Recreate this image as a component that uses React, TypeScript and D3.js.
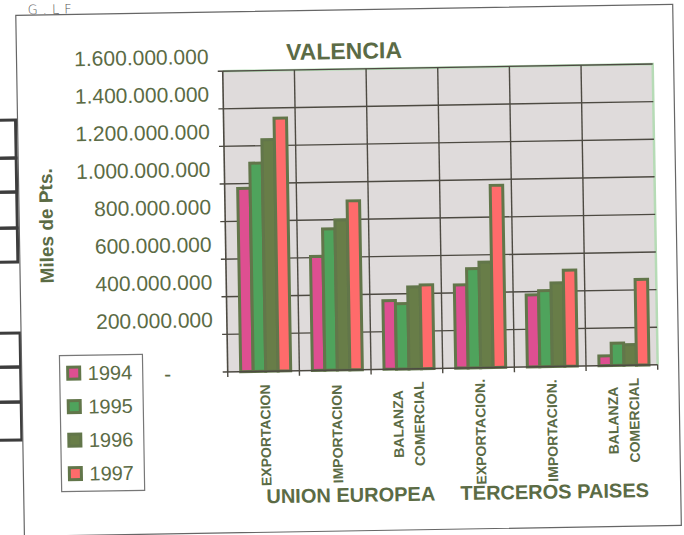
import * as d3 from 'd3';
import * as React from 'react';

// chart values (Miles de Pts.)
const categoryLines: string[][] = [
    ['EXPORTACION'],
    ['IMPORTACION'],
    ['BALANZA', 'COMERCIAL'],
    ['EXPORTACION.'],
    ['IMPORTACION.'],
    ['BALANZA', 'COMERCIAL'],
];
const groupLabels = ['UNION EUROPEA', 'TERCEROS PAISES'];
const years = ['1994', '1995', '1996', '1997'];
const values1994 = [975000000, 606000000, 365000000, 442000000, 383000000, 52000000];
const values1995 = [1108000000, 752000000, 348000000, 528000000, 404000000, 119000000];
const values1996 = [1232000000, 798000000, 436000000, 561000000, 445000000, 110000000];
const values1997 = [1345000000, 899000000, 445000000, 969000000, 511000000, 456000000];
const yTicks = [0, 200000000, 400000000, 600000000, 800000000, 1000000000, 1200000000, 1400000000, 1600000000];

const series = [values1994, values1995, values1996, values1997];
const colors = ['#de4f91', '#4fa35c', '#687d48', '#ff6b6b'];
const outline = '#62764a';
const textColor = '#5b6b45';
const gridColor = '#4d4a42';

const W = 684;
const H = 535;
const plot = { left: 226, right: 656, top: 69.2, bottom: 370 };

const esFormat = d3.formatLocale({ decimal: ',', thousands: '.', grouping: [3], currency: ['', ''] }).format(',d');

export default function App() {
    const x0 = d3.scaleBand<number>()
        .domain(d3.range(categoryLines.length))
        .range([plot.left, plot.right]);
    const x1 = d3.scaleBand<string>()
        .domain(years)
        .range([13, 63]);
    const y = d3.scaleLinear()
        .domain([0, 1600000000])
        .range([plot.bottom, plot.top]);

    const font = 'Liberation Sans, Arial, sans-serif';
    const bw = x0.bandwidth();

    return (
        <svg width={W} height={H} style={{ position: 'absolute', left: 0, top: 0, display: 'block', background: '#fff' }}>
            <g transform="rotate(-0.95 342 267)">
                {/* boxes of the page behind */}
                {[114.6, 152.6, 186.6, 222.6].map((b, i, arr) => (
                    <rect key={'ub' + i} x={-10} y={b} width={28}
                        height={(i < arr.length - 1 ? arr[i + 1] : 256.6) - b}
                        fill="none" stroke="#3d3d3d" strokeWidth={3} />
                ))}
                {[327.6, 361.6, 396.6].map((b, i, arr) => (
                    <rect key={'lb' + i} x={-10} y={b} width={29}
                        height={(i < arr.length - 1 ? arr[i + 1] : 434.6) - b}
                        fill="none" stroke="#3d3d3d" strokeWidth={3} />
                ))}

                {/* chart frame */}
                <rect x={20} y={10} width={657} height={521} fill="#fff" stroke="#666" strokeWidth={1.2} />

                {/* handwritten mark */}
                <text x={32} y={9} fontFamily="DejaVu Sans" fontSize={13} fontWeight={300}
                    letterSpacing={5} fill="#555">G.LF</text>

                <text x={347.6} y={59} textAnchor="middle" fontFamily={font} fontSize={23}
                    fontWeight="bold" fill={textColor}>VALENCIA</text>

                {/* plot area */}
                <rect x={plot.left} y={plot.top} width={plot.right - plot.left} height={plot.bottom - plot.top}
                    fill="#dfdbdb" stroke="none" />
                <path d={`M${plot.left},${plot.top}H${plot.right}V${plot.bottom}`} fill="none"
                    stroke="#b6dbb6" strokeWidth={2.5} />

                {yTicks.slice(1).map(t => (
                    <line key={'hg' + t} x1={plot.left - 5} x2={plot.right} y1={y(t)} y2={y(t)}
                        stroke={gridColor} strokeWidth={1.4} />
                ))}
                {d3.range(1, categoryLines.length).map(i => (
                    <line key={'vg' + i} x1={x0(i)} x2={x0(i)} y1={plot.top} y2={plot.bottom + 5}
                        stroke={gridColor} strokeWidth={1.4} />
                ))}

                {/* bars */}
                {categoryLines.map((_, i) => (
                    <g key={'cat' + i} transform={`translate(${x0(i)},0)`}>
                        {series.map((vals, j) => (
                            <rect key={years[j]} x={x1(years[j])} y={y(vals[i])}
                                width={x1.bandwidth()} height={y(0) - y(vals[i])}
                                fill={colors[j]} stroke={outline} strokeWidth={3} />
                        ))}
                    </g>
                ))}

                {/* axes */}
                <line x1={plot.left} x2={plot.left} y1={plot.top} y2={plot.bottom} stroke={gridColor} strokeWidth={1.6} />
                <line x1={plot.left - 5} x2={plot.right} y1={plot.bottom} y2={plot.bottom} stroke={gridColor} strokeWidth={1.6} />
                <line x1={plot.left} x2={plot.left} y1={plot.bottom} y2={plot.bottom + 5} stroke={gridColor} strokeWidth={1.4} />
                <line x1={plot.right} x2={plot.right} y1={plot.bottom} y2={plot.bottom + 5} stroke={gridColor} strokeWidth={1.4} />

                {yTicks.map(t => t === 0 ? (
                    <text key={'yl' + t} x={166} y={y(t) + 1} dy="0.35em" textAnchor="middle"
                        fontFamily={font} fontSize={21} fill={textColor}>-</text>
                ) : (
                    <text key={'yl' + t} x={212} y={y(t) - 15} dy="0.36em" textAnchor="end"
                        fontFamily={font} fontSize={21} fill={textColor}>{esFormat(t)}</text>
                ))}

                <text transform="translate(46.7,221) rotate(-90)" textAnchor="middle" dy="0.36em"
                    fontFamily={font} fontSize={19} fontWeight="bold" fill={textColor}>Miles de Pts.</text>

                {/* category labels */}
                {categoryLines.map((lines, i) => {
                    const cx = (x0(i) as number) + bw / 2 + 1;
                    const cy = lines.length > 1 ? 425 : 434;
                    return lines.map((line, k) => (
                        <text key={'cl' + i + '-' + k}
                            transform={`translate(${cx + (k - (lines.length - 1) / 2) * 21},${cy}) rotate(-90)`}
                            textAnchor="middle" dy="0.36em" fontFamily={font} fontSize={14}
                            fontWeight="bold" fill={textColor}>{line}</text>
                    ));
                })}

                {groupLabels.map((g, i) => (
                    <text key={g}
                        x={i === 0 ? (x0(1) as number) + bw / 2 + 13.5 : (x0(4) as number) + bw / 2 + 2.5}
                        y={502} textAnchor="middle" fontFamily={font} fontSize={20} fontWeight="bold"
                        fill={textColor}>{g}</text>
                ))}

                {/* legend */}
                <rect x={58} y={351} width={83} height={136} fill="#fff" stroke="#777" strokeWidth={1.2} />
                {years.map((yr, j) => {
                    const cy = 368.7 + j * 33.5;
                    return (
                        <g key={'lg' + yr}>
                            <rect x={66} y={cy - 6} width={12} height={12} fill={colors[j]}
                                stroke={outline} strokeWidth={3} />
                            <text x={86} y={cy} dy="0.36em" fontFamily={font} fontSize={20}
                                fill={textColor}>{yr}</text>
                        </g>
                    );
                })}
            </g>
        </svg>
    );
}
